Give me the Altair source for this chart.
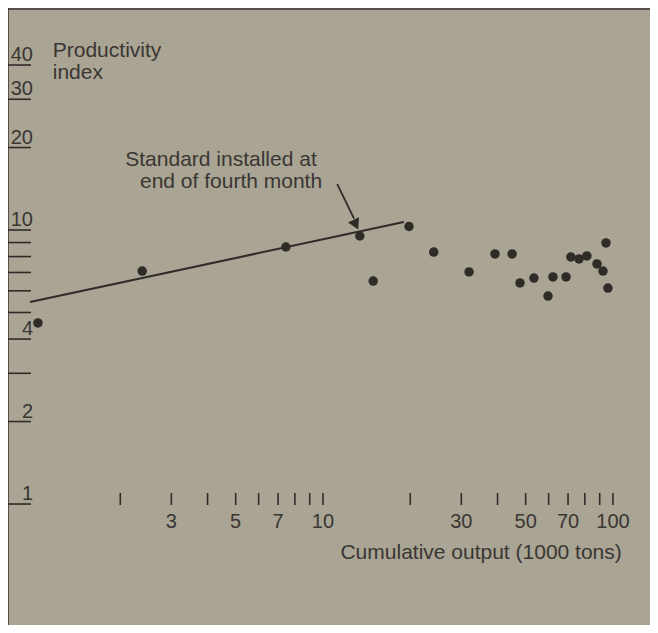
import altair as alt
import pandas as pd

# ---- data ----
output_k = [1.04, 2.38, 7.45, 13.4, 14.9, 19.8, 24.1, 31.9, 39.2, 44.9, 47.8,
            53.4, 59.7, 62.1, 68.9, 71.6, 76.4, 81.3, 88.1, 92.4, 94.6, 96.1]
productivity = [4.58, 7.08, 8.67, 9.51, 6.51, 10.3, 8.31, 7.03, 8.18, 8.18, 6.41,
                6.68, 5.74, 6.74, 6.74, 7.97, 7.84, 8.04, 7.52, 7.08, 8.97, 6.14]

trend_x = [0.977, 19.0]
trend_y = [5.46, 10.7]

arrow_x = [11.2, 12.8]
arrow_y = [14.7, 11.0]
arrow_head = (12.9, 10.6)

y_ticks = [1, 2, 3, 4, 5, 6, 7, 8, 9, 10, 20, 30, 40]
y_labels = ["1", "2", "", "4", "", "", "", "", "", "10", "20", "30", "40"]
x_ticks = [2, 3, 4, 5, 6, 7, 8, 9, 10, 20, 30, 40, 50, 60, 70, 80, 90, 100]
x_labels = ["", "3", "", "5", "", "7", "", "", "10", "", "30", "", "50", "", "70", "", "", "100"]

note_lines = ["Standard installed at", "end of fourth month"]
note_x = [4.45, 4.82]
note_y = [18.0, 15.0]

ytitle_lines = ["Productivity", "index"]
ytitle_x = [1.17, 1.17]
ytitle_y = [42.8, 35.6]

xtitle = "Cumulative output (1000 tons)"
xtitle_pos = (35.1, 0.663)

# ---- styling ----
BG = "#a9a494"
INK = "#2f2b27"
TXT = "#3a3632"
FONT = "Liberation Sans"
W, H = 642, 617

xs = alt.Scale(type="log", domain=[0.820, 134.2], nice=False)
ys = alt.Scale(type="log", domain=[0.3618, 64.6], nice=False)

pts = pd.DataFrame({"x": output_k, "y": productivity})
trend = pd.DataFrame({"x": trend_x, "y": trend_y})
arrow = pd.DataFrame({"x": arrow_x, "y": arrow_y})
head = pd.DataFrame({"x": [arrow_head[0]], "y": [arrow_head[1]]})
yt = pd.DataFrame({"v": y_ticks, "lab": y_labels})
xt = pd.DataFrame({"v": x_ticks, "lab": x_labels})
notes = pd.DataFrame({"x": note_x, "y": note_y, "t": note_lines})
ytit = pd.DataFrame({"x": ytitle_x, "y": ytitle_y, "t": ytitle_lines})
xtit = pd.DataFrame({"x": [xtitle_pos[0]], "y": [xtitle_pos[1]], "t": [xtitle]})

X = lambda f: alt.X(f, type="quantitative", scale=xs, axis=None)
Y = lambda f: alt.Y(f, type="quantitative", scale=ys, axis=None)

# frame lines (left and top)
frame_left = alt.Chart(pd.DataFrame({"a": [0]})).mark_rule(color="#3a3531", strokeWidth=1.5).encode(
    x=alt.value(0), y=alt.value(0), y2=alt.value(H))
frame_top = alt.Chart(pd.DataFrame({"a": [0]})).mark_rule(color="#3a3531", strokeWidth=1.5).encode(
    x=alt.value(0), x2=alt.value(W), y=alt.value(1))

# y axis ticks + labels (underlined style)
ytick_marks = alt.Chart(yt).mark_rule(color=INK, strokeWidth=1.6).encode(
    y=Y("v"), x=alt.value(0), x2=alt.value(23))
ytick_labels = alt.Chart(yt).mark_text(
    align="right", baseline="alphabetic", dy=-4, font=FONT, fontSize=20, color=TXT).encode(
    y=Y("v"), x=alt.value(25), text="lab:N")

# x axis ticks + labels
xtick_marks = alt.Chart(xt).mark_rule(color=INK, strokeWidth=1.6).encode(
    x=X("v"), y=alt.value(485), y2=alt.value(497))
xtick_labels = alt.Chart(xt).mark_text(
    align="center", baseline="middle", font=FONT, fontSize=20, color=TXT).encode(
    x=X("v"), y=alt.value(514), text="lab:N")

trend_line = alt.Chart(trend).mark_line(color=INK, strokeWidth=2).encode(x=X("x"), y=Y("y"))
dots = alt.Chart(pts).mark_circle(color=INK, opacity=1, size=90).encode(x=X("x"), y=Y("y"))

arrow_line = alt.Chart(arrow).mark_line(color=INK, strokeWidth=1.8).encode(x=X("x"), y=Y("y"))
arrow_tip = alt.Chart(head).mark_point(
    shape="triangle", angle=154, size=150, filled=True, color=INK, opacity=1).encode(x=X("x"), y=Y("y"))

note_text = alt.Chart(notes).mark_text(
    align="center", baseline="middle", font=FONT, fontSize=21, color=TXT).encode(
    x=X("x"), y=Y("y"), text="t:N")
ytitle_text = alt.Chart(ytit).mark_text(
    align="left", baseline="alphabetic", font=FONT, fontSize=21, color=TXT).encode(
    x=X("x"), y=Y("y"), text="t:N")
xtitle_text = alt.Chart(xtit).mark_text(
    align="center", baseline="middle", font=FONT, fontSize=21, color=TXT).encode(
    x=X("x"), y=Y("y"), text="t:N")

chart = alt.layer(
    frame_left, frame_top, ytick_marks, ytick_labels, xtick_marks, xtick_labels,
    trend_line, dots, arrow_line, arrow_tip, note_text, ytitle_text, xtitle_text
).properties(
    width=W, height=H, background=BG, padding=0,
    autosize=alt.AutoSizeParams(type="none")
).configure_view(stroke=None)

chart.save("out.html", embed_options={"renderer": "svg", "actions": False})
